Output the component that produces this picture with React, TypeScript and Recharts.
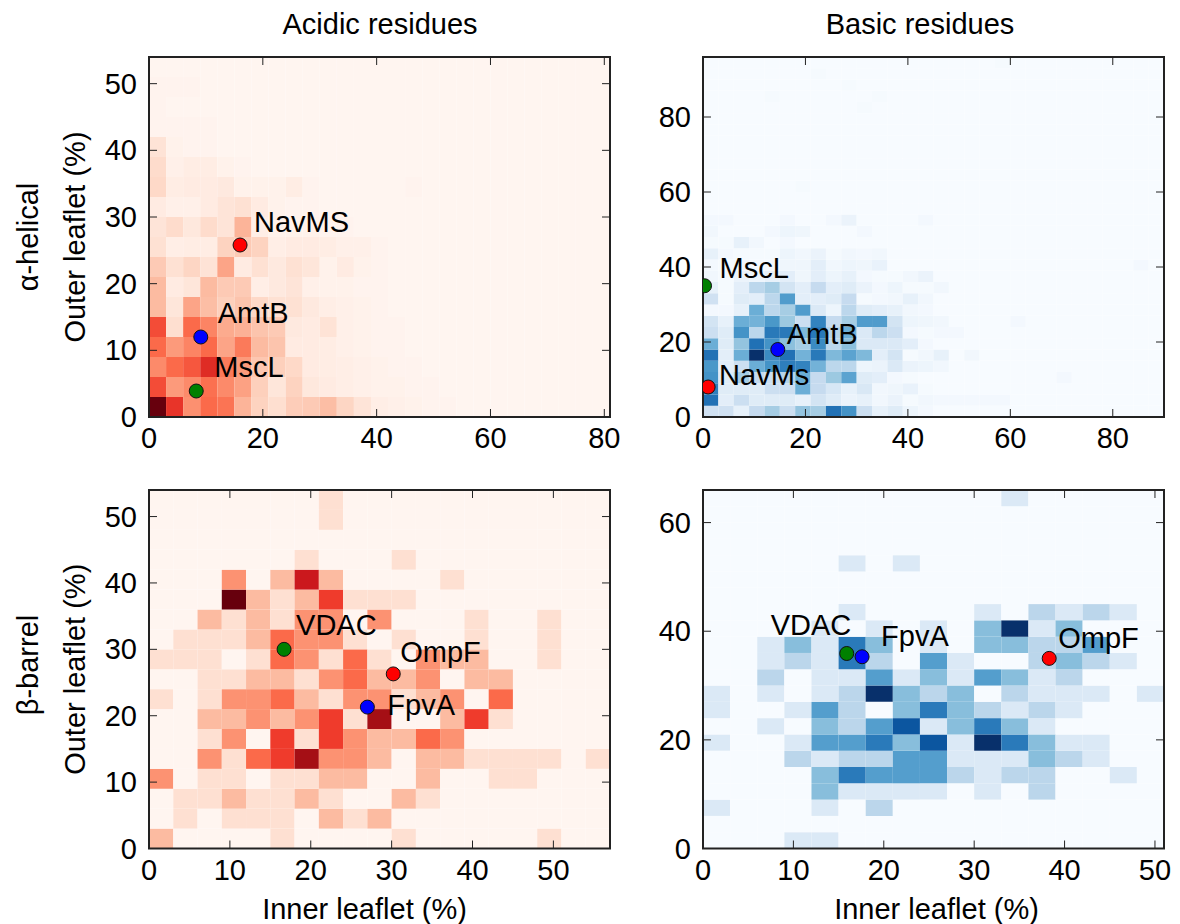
import React from 'react'
import { ScatterChart, Scatter, XAxis, YAxis, ReferenceArea } from 'recharts'

// Heatmap rows go bottom to top. Short rows just mean the rest of the row is empty.
const acidicHelical = [
    [100, 65, 38, 50, 47, 27, 17, 13, 19, 20, 24, 16, 10, 4, 3, 2, 1, 1],
    [58, 35, 40, 48, 40, 33, 18, 9, 17, 8, 6, 4, 3, 2, 2, 1, 1],
    [40, 50, 55, 68, 45, 35, 21, 18, 15, 6, 5, 4, 3, 2, 1, 1],
    [50, 35, 42, 50, 32, 45, 25, 22, 6, 6, 5, 3, 2, 1, 1],
    [58, 13, 50, 42, 30, 28, 22, 20, 7, 6, 11, 3, 2, 1, 1],
    [25, 9, 32, 24, 18, 22, 15, 12, 12, 7, 4, 3, 2, 1],
    [25, 6, 9, 25, 20, 20, 4, 7, 10, 3, 2, 2, 1, 1],
    [20, 12, 16, 11, 32, 6, 12, 7, 12, 9, 2, 6, 2, 1],
    [12, 4, 5, 5, 17, 20, 17, 4, 6, 6, 5, 3, 3, 1],
    [10, 14, 8, 14, 10, 27, 4, 2, 2, 2, 1, 1],
    [6, 3, 3, 6, 10, 12, 6, 2, 1, 1],
    [15, 5, 6, 6, 7, 2, 2, 2, 5, 1, 0, 0, 0, 0, 0, 1],
    [14, 3, 5, 5, 2, 1],
    [11, 2, 1, 1],
    [1, 1, 1, 1],
    [1],
    [1, 1, 1],
]

const basicHelical = [
    [20, 20, 8, 25, 35, 22, 40, 35, 75, 62, 22, 8, 12, 5, 2],
    [75, 10, 22, 12, 12, 12, 8, 18, 12, 6, 8, 3, 6, 1, 3, 2, 2, 2, 2, 2],
    [70, 12, 12, 12, 22, 22, 50, 25, 16, 8, 15, 3, 4, 7, 1],
    [62, 12, 35, 25, 22, 30, 50, 25, 38, 55, 12, 10, 2, 1, 0, 0, 0, 0, 0, 0, 0, 0, 0, 2],
    [60, 10, 22, 50, 62, 70, 68, 48, 28, 28, 5, 6, 14, 6, 5, 3],
    [75, 10, 50, 100, 65, 75, 48, 72, 45, 55, 45, 10, 18, 1, 3, 8, 0, 3],
    [50, 12, 40, 75, 62, 42, 35, 65, 28, 42, 14, 14, 14, 10, 2],
    [22, 12, 62, 28, 72, 72, 45, 72, 30, 50, 14, 28, 22, 2, 1, 2, 2],
    [18, 8, 50, 48, 60, 38, 22, 68, 25, 35, 58, 58, 18, 5, 4, 3, 0, 0, 0, 0, 2],
    [2, 2, 8, 50, 28, 35, 58, 14, 5, 28, 12, 10, 8, 3, 2],
    [20, 1, 12, 10, 28, 58, 10, 10, 12, 25, 1, 2, 3, 8, 3],
    [8, 1, 10, 28, 35, 18, 10, 25, 10, 12, 6, 2, 5, 1, 1, 3],
    [3, 1, 6, 5, 8, 10, 4, 10, 5, 8, 2, 1, 1, 3, 6],
    [2, 1, 3, 2, 2, 4, 4, 10, 3, 5, 4, 7, 0, 0, 0, 0, 0, 0, 0, 0, 0, 0, 0, 0, 0, 0, 0, 0, 2],
    [8, 2, 1, 1, 1, 5, 3, 6, 1, 3, 2, 3],
    [1, 1, 8, 3, 0, 2],
    [3, 0, 0, 0, 2, 5, 4, 0, 0, 0, 2],
    [2, 2, 0, 0, 0, 2, 0, 0, 2, 6, 0, 0, 0, 0, 2],
    [],
    [],
    [0, 0, 0, 0, 0, 0, 1],
    [],
    [],
    [],
    [],
    [],
    [],
    [0, 0, 0, 0, 0, 0, 0, 0, 0, 0, 1],
    [0, 0, 0, 0, 1, 0, 0, 0, 0, 0, 0, 1],
    [0, 0, 0, 0, 0, 0, 0, 0, 0, 1],
    [0, 0, 0, 0, 0, 0, 0, 1],
    [0, 0, 0, 0, 0, 0, 0, 0, 0, 0, 0, 0, 0, 0, 0, 0, 0, 0, 0, 1],
]

const acidicBarrel = [
    [2, 0, 0, 0, 0, 1, 0, 0, 0, 0, 1, 0, 0, 0, 0, 0, 1],
    [0, 1, 0, 1, 1, 1, 0, 2, 1, 2],
    [0, 1, 1, 2, 1, 1, 2, 1, 0, 0, 2, 1],
    [3, 0, 1, 1, 0, 1, 1, 2, 2, 0, 0, 2, 0, 0, 1, 1],
    [0, 0, 3, 1, 4, 5, 7, 3, 3, 2, 0, 2, 2, 1, 1, 1, 1, 0, 1],
    [0, 0, 1, 3, 0, 5, 1, 5, 3, 2, 2, 4, 3],
    [0, 0, 2, 2, 3, 2, 3, 5, 1, 7, 0, 0, 2, 5, 1],
    [1, 0, 1, 3, 3, 4, 2, 1, 3, 3, 1, 2, 3, 0, 4],
    [0, 0, 1, 1, 2, 2, 1, 3, 4, 2, 2, 3, 0, 2, 2],
    [1, 1, 1, 0, 1, 4, 3, 1, 4, 1, 0, 3, 2, 2, 0, 0, 1],
    [0, 1, 1, 1, 2, 4, 3, 3, 1, 0, 1, 0, 0, 1, 0, 0, 1],
    [0, 0, 2, 1, 2, 1, 3, 3, 0, 3, 0, 0, 0, 1, 0, 0, 1],
    [0, 0, 0, 8, 2, 1, 2, 5, 1, 1, 1],
    [0, 0, 0, 3, 0, 2, 6, 2, 0, 0, 0, 0, 1],
    [0, 0, 0, 0, 0, 0, 1, 0, 0, 0, 1],
    [],
    [0, 0, 0, 0, 0, 0, 0, 1],
    [0, 0, 0, 0, 0, 0, 0, 1],
]

const basicBarrel = [
    [0, 0, 0, 1, 1],
    [],
    [1, 0, 0, 0, 1, 0, 2],
    [0, 0, 0, 0, 3, 1, 1, 1, 1, 0, 1, 0, 2],
    [0, 0, 0, 0, 3, 5, 4, 4, 4, 2, 1, 2, 2, 0, 0, 1],
    [0, 0, 0, 2, 1, 2, 2, 4, 4, 1, 1, 1, 3, 2, 1],
    [1, 0, 0, 1, 4, 4, 5, 3, 6, 1, 7, 5, 3, 1, 1],
    [0, 0, 1, 0, 3, 2, 4, 6, 1, 3, 5, 3, 1],
    [1, 0, 0, 1, 4, 2, 0, 3, 5, 3, 2, 1, 2, 1],
    [1, 0, 1, 0, 1, 2, 7, 3, 2, 3, 0, 2, 1, 1, 1, 0, 1],
    [0, 0, 2, 0, 1, 1, 4, 1, 3, 1, 4, 3, 1, 2],
    [0, 0, 1, 2, 1, 5, 2, 0, 4, 1, 0, 0, 2, 3, 2, 1],
    [0, 0, 1, 3, 1, 5, 3, 0, 1, 0, 3, 3, 2, 2, 4],
    [0, 0, 0, 0, 1, 0, 1, 0, 1, 0, 3, 7, 1, 3],
    [0, 0, 0, 0, 0, 1, 0, 0, 0, 0, 1, 0, 2, 1, 2, 1],
    [],
    [],
    [0, 0, 0, 0, 0, 1, 0, 1],
    [],
    [],
    [],
    [0, 0, 0, 0, 0, 0, 0, 0, 0, 0, 0, 1],
]

const helicalAcidicProteins = [
    { name: 'NavMS', x: 16, y: 25.8, color: '#ff0000' },
    { name: 'AmtB', x: 9.1, y: 12, color: '#0000ff' },
    { name: 'MscL', x: 8.3, y: 3.9, color: '#008000' },
]
const helicalBasicProteins = [
    { name: 'NavMs', x: 1, y: 8, color: '#ff0000' },
    { name: 'AmtB', x: 14.6, y: 18, color: '#0000ff' },
    { name: 'MscL', x: 0.3, y: 35, color: '#008000' },
]
const barrelAcidicProteins = [
    { name: 'OmpF', x: 30.2, y: 26.3, color: '#ff0000' },
    { name: 'FpvA', x: 27, y: 21.3, color: '#0000ff' },
    { name: 'VDAC', x: 16.7, y: 30, color: '#008000' },
]
const barrelBasicProteins = [
    { name: 'OmpF', x: 38.3, y: 35, color: '#ff0000' },
    { name: 'VDAC', x: 15.9, y: 35.9, color: '#008000' },
    { name: 'FpvA', x: 17.6, y: 35.3, color: '#0000ff' },
]

const reds = ['#fff5f0', '#fee0d2', '#fcbba1', '#fc9272', '#fb6a4a', '#ef3b2c', '#cb181d', '#a50f15', '#67000d']
const blues = ['#f7fbff', '#deebf7', '#c6dbef', '#9ecae1', '#6baed6', '#4292c6', '#2171b5', '#08519c', '#08306b']

const FONT = '"Liberation Sans", Arial, sans-serif'
const FONT_SIZE = 29
const BIN = 3
const Y_AXIS_W = 100
const X_AXIS_H = 76
const M_TOP = 12
const M_RIGHT = 10
const PLOT_W = 461

function colorFor(ramp: string[], t: number) {
    const pos = Math.min(Math.max(t, 0), 1) * (ramp.length - 1)
    const i = Math.min(Math.floor(pos), ramp.length - 2)
    const f = pos - i
    const channel = (hex: string, c: number) => parseInt(hex.slice(1 + c * 2, 3 + c * 2), 16)
    const mix = [0, 1, 2].map(c => Math.round(channel(ramp[i], c) * (1 - f) + channel(ramp[i + 1], c) * f))
    return `rgb(${mix.join(',')})`
}

interface PanelProps {
    left: number
    top: number
    plotH: number
    xMax: number
    yMax: number
    xTicks: number[]
    yTicks: number[]
    rows: number[][]
    scaleMax: number
    ramp: string[]
    proteins: { name: string; x: number; y: number; color: string }[]
    labelOffsets: Record<string, [number, number]>
    xLabel?: string
    xLabelDx?: number
    yLabel?: string
}

function Panel({ left, top, plotH, xMax, yMax, xTicks, yTicks, rows, scaleMax, ramp, proteins, labelOffsets, xLabel, xLabelDx = 0, yLabel }: PanelProps) {
    const nCols = Math.round(xMax / BIN)
    const nRows = Math.round(yMax / BIN)
    const bottom = M_TOP + plotH
    const plotLeft = Y_AXIS_W
    const plotRight = Y_AXIS_W + PLOT_W

    const cells: React.ReactElement[] = []
    for (let r = 0; r < nRows; r++) {
        for (let c = 0; c < nCols; c++) {
            const v = (rows[r] && rows[r][c]) || 0
            cells.push(
                <ReferenceArea
                    key={`${r}-${c}`}
                    x1={c * BIN}
                    x2={(c + 1) * BIN}
                    y1={r * BIN}
                    y2={(r + 1) * BIN}
                    fill={colorFor(ramp, v / scaleMax)}
                    fillOpacity={1}
                    stroke="none"
                />
            )
        }
    }

    const xTick = (p: { x: number; payload: { value: number } }) => (
        <g>
            <line x1={p.x} x2={p.x} y1={bottom} y2={bottom - 8} stroke="#222" />
            <line x1={p.x} x2={p.x} y1={M_TOP} y2={M_TOP + 8} stroke="#222" />
            <text x={p.x} y={bottom + 31} textAnchor="middle" fontSize={FONT_SIZE} fontFamily={FONT} fill="#000">
                {p.payload.value}
            </text>
        </g>
    )
    const yTick = (p: { y: number; payload: { value: number } }) => (
        <g>
            <line x1={plotLeft} x2={plotLeft + 8} y1={p.y} y2={p.y} stroke="#222" />
            <line x1={plotRight} x2={plotRight - 8} y1={p.y} y2={p.y} stroke="#222" />
            <text x={plotLeft - 12} y={p.y + 10} textAnchor="end" fontSize={FONT_SIZE} fontFamily={FONT} fill="#000">
                {p.payload.value}
            </text>
        </g>
    )

    const marker = (p: { cx: number; cy: number; payload: { name: string; color: string } }) => {
        const [dx, dy] = labelOffsets[p.payload.name]
        return (
            <g>
                <circle cx={p.cx} cy={p.cy} r={7} fill={p.payload.color} stroke="#111" strokeWidth={1} />
                <text x={p.cx + dx} y={p.cy + dy + 10} fontSize={FONT_SIZE} fontFamily={FONT} fill="#000">
                    {p.payload.name}
                </text>
            </g>
        )
    }

    return (
        <div style={{ position: 'absolute', left, top }}>
            <ScatterChart
                width={Y_AXIS_W + PLOT_W + M_RIGHT}
                height={M_TOP + plotH + X_AXIS_H}
                margin={{ top: M_TOP, right: M_RIGHT, bottom: 0, left: 0 }}
            >
                <XAxis
                    type="number"
                    dataKey="x"
                    domain={[0, xMax]}
                    ticks={xTicks}
                    interval={0}
                    height={X_AXIS_H}
                    allowDataOverflow
                    axisLine={false}
                    tickLine={false}
                    tick={xTick}
                    label={xLabel ? {
                        value: xLabel,
                        position: 'insideBottom',
                        offset: 6,
                        dx: xLabelDx,
                        fontSize: FONT_SIZE,
                        fontFamily: FONT,
                        fill: '#000',
                    } : undefined}
                />
                <YAxis
                    type="number"
                    dataKey="y"
                    domain={[0, yMax]}
                    ticks={yTicks}
                    interval={0}
                    width={Y_AXIS_W}
                    allowDataOverflow
                    axisLine={false}
                    tickLine={false}
                    tick={yTick}
                    label={yLabel ? {
                        value: yLabel,
                        angle: -90,
                        position: 'insideLeft',
                        offset: 26,
                        fontSize: FONT_SIZE,
                        fontFamily: FONT,
                        fill: '#000',
                        style: { textAnchor: 'middle' },
                    } : undefined}
                />
                {cells}
                <ReferenceArea x1={0} x2={xMax} y1={0} y2={yMax} fill="none" stroke="#222" strokeWidth={2} />
                <Scatter data={proteins} shape={marker} isAnimationActive={false} />
            </ScatterChart>
        </div>
    )
}

const textBase: React.CSSProperties = {
    position: 'absolute',
    fontFamily: FONT,
    fontSize: FONT_SIZE,
    color: '#000',
    whiteSpace: 'nowrap',
    lineHeight: 1,
}

function Title({ x, y, children, rotate }: { x: number; y: number; children: string; rotate?: boolean }) {
    return (
        <div style={{ ...textBase, left: x, top: y, transform: `translate(-50%, -50%)${rotate ? ' rotate(-90deg)' : ''}` }}>
            {children}
        </div>
    )
}

export default function App() {
    return (
        <div style={{ position: 'absolute', left: 0, top: 0, width: 1180, height: 924, background: '#fff', overflow: 'hidden' }}>
            <Title x={380} y={24}>Acidic residues</Title>
            <Title x={920} y={24}>Basic residues</Title>
            <Title x={28} y={237} rotate>α-helical</Title>
            <Title x={28} y={665} rotate>β-barrel</Title>

            <Panel
                left={49}
                top={45}
                plotH={360}
                xMax={81}
                yMax={54}
                xTicks={[0, 20, 40, 60, 80]}
                yTicks={[0, 10, 20, 30, 40, 50]}
                rows={acidicHelical}
                scaleMax={100}
                ramp={reds}
                proteins={helicalAcidicProteins}
                labelOffsets={{ NavMS: [14, -23], AmtB: [17, -24], MscL: [18, -24] }}
                yLabel="Outer leaflet (%)"
            />
            <Panel
                left={603}
                top={45}
                plotH={360}
                xMax={90}
                yMax={96}
                xTicks={[0, 20, 40, 60, 80]}
                yTicks={[0, 20, 40, 60, 80]}
                rows={basicHelical}
                scaleMax={100}
                ramp={blues}
                proteins={helicalBasicProteins}
                labelOffsets={{ MscL: [15, -18], AmtB: [9, -16], NavMs: [11, -12] }}
            />
            <Panel
                left={49}
                top={478}
                plotH={358.5}
                xMax={57}
                yMax={54}
                xTicks={[0, 10, 20, 30, 40, 50]}
                yTicks={[0, 10, 20, 30, 40, 50]}
                rows={acidicBarrel}
                scaleMax={8}
                ramp={reds}
                proteins={barrelAcidicProteins}
                labelOffsets={{ VDAC: [12, -24], OmpF: [7, -22], FpvA: [20, -2] }}
                xLabel="Inner leaflet (%)"
                xLabelDx={-15}
                yLabel="Outer leaflet (%)"
            />
            <Panel
                left={603}
                top={478}
                plotH={358.5}
                xMax={51}
                yMax={66}
                xTicks={[0, 10, 20, 30, 40, 50]}
                yTicks={[0, 20, 40, 60]}
                rows={basicBarrel}
                scaleMax={7}
                ramp={blues}
                proteins={barrelBasicProteins}
                labelOffsets={{ VDAC: [-76, -28], FpvA: [19, -21], OmpF: [9, -20] }}
                xLabel="Inner leaflet (%)"
                xLabelDx={3}
            />
        </div>
    )
}
